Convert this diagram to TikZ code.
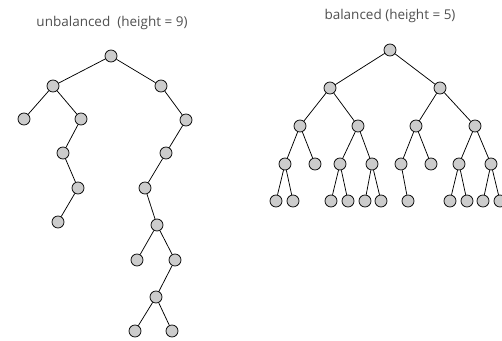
\documentclass[tikz,border=0pt]{standalone}
\usepackage{fontspec}
\setmainfont{Open Sans}
\definecolor{titlegray}{RGB}{80,80,80}
\definecolor{nodegray}{RGB}{204,204,204}
\begin{document}
\begin{tikzpicture}[x=1pt,y=-1pt,
  vtx/.style={circle,draw=black,fill=nodegray,line width=0.75pt,minimum size=12pt,inner sep=0pt},
  edge/.style={draw=black,line width=0.75pt},
  caption/.style={text=titlegray,font=\fontsize{13.5}{15}\selectfont,inner sep=0pt}]
\useasboundingbox (0,0) rectangle (502,340);
\clip (0,0) rectangle (502,340);

% titles
\node[caption] (t1) at (112,23) {unbalanced\ \ (height = 9)};
\node[caption] (t2) at (390,16) {balanced (height = 5)};

% unbalanced tree
\node[vtx] (u)        at (111,56) {};
\node[vtx] (uL)       at (53,86) {};
\node[vtx] (uR)       at (161,86) {};
\node[vtx] (uLL)      at (24,119) {};
\node[vtx] (uLR)      at (81,119) {};
\node[vtx] (uLRL)     at (63,153) {};
\node[vtx] (uLRLR)    at (78,188) {};
\node[vtx] (uLRLRL)   at (58,222) {};
\node[vtx] (uRR)      at (186,120) {};
\node[vtx] (uRRL)     at (166,153) {};
\node[vtx] (uRRLL)    at (145,188) {};
\node[vtx] (uRRLLR)   at (157,225) {};
\node[vtx] (uA)       at (137,260) {};
\node[vtx] (uB)       at (175,260) {};
\node[vtx] (uC)       at (156,297) {};
\node[vtx] (uD)       at (135,331) {};
\node[vtx] (uE)       at (172,331) {};

\draw[edge] (u) -- (uL);
\draw[edge] (u) -- (uR);
\draw[edge] (uL) -- (uLL);
\draw[edge] (uL) -- (uLR);
\draw[edge] (uLR) -- (uLRL);
\draw[edge] (uLRL) -- (uLRLR);
\draw[edge] (uLRLR) -- (uLRLRL);
\draw[edge] (uR) -- (uRR);
\draw[edge] (uRR) -- (uRRL);
\draw[edge] (uRRL) -- (uRRLL);
\draw[edge] (uRRLL) -- (uRRLLR);
\draw[edge] (uRRLLR) -- (uA);
\draw[edge] (uRRLLR) -- (uB);
\draw[edge] (uB) -- (uC);
\draw[edge] (uC) -- (uD);
\draw[edge] (uC) -- (uE);

% balanced tree
\node[vtx] (b)    at (390,50) {};
\node[vtx] (bL)   at (330,88) {};
\node[vtx] (bR)   at (440,88) {};
\node[vtx] (bA)   at (300,126) {};
\node[vtx] (bB)   at (358,126) {};
\node[vtx] (bC)   at (416,126) {};
\node[vtx] (bD)   at (475,126) {};
\node[vtx] (bA1)  at (285,164) {};
\node[vtx] (bA2)  at (315,164) {};
\node[vtx] (bB1)  at (340,164) {};
\node[vtx] (bB2)  at (372,164) {};
\node[vtx] (bC1)  at (401,164) {};
\node[vtx] (bC2)  at (431,164) {};
\node[vtx] (bD1)  at (459,164) {};
\node[vtx] (bD2)  at (491,164) {};
\node[vtx] (bA1a) at (276,201) {};
\node[vtx] (bA1b) at (293,201) {};
\node[vtx] (bB1a) at (331,201) {};
\node[vtx] (bB1b) at (348,201) {};
\node[vtx] (bB2a) at (365,201) {};
\node[vtx] (bB2b) at (381,201) {};
\node[vtx] (bC1a) at (408,201) {};
\node[vtx] (bD1a) at (450,201) {};
\node[vtx] (bD1b) at (467,201) {};
\node[vtx] (bD2a) at (483,201) {};
\node[vtx] (bD2b) at (500,201) {};

\draw[edge] (b) -- (bL);
\draw[edge] (b) -- (bR);
\draw[edge] (bL) -- (bA);
\draw[edge] (bL) -- (bB);
\draw[edge] (bR) -- (bC);
\draw[edge] (bR) -- (bD);
\draw[edge] (bA) -- (bA1);
\draw[edge] (bA) -- (bA2);
\draw[edge] (bB) -- (bB1);
\draw[edge] (bB) -- (bB2);
\draw[edge] (bC) -- (bC1);
\draw[edge] (bC) -- (bC2);
\draw[edge] (bD) -- (bD1);
\draw[edge] (bD) -- (bD2);
\draw[edge] (bA1) -- (bA1a);
\draw[edge] (bA1) -- (bA1b);
\draw[edge] (bB1) -- (bB1a);
\draw[edge] (bB1) -- (bB1b);
\draw[edge] (bB2) -- (bB2a);
\draw[edge] (bB2) -- (bB2b);
\draw[edge] (bC1) -- (bC1a);
\draw[edge] (bD1) -- (bD1a);
\draw[edge] (bD1) -- (bD1b);
\draw[edge] (bD2) -- (bD2a);
\draw[edge] (bD2) -- (bD2b);
\end{tikzpicture}
\end{document}
